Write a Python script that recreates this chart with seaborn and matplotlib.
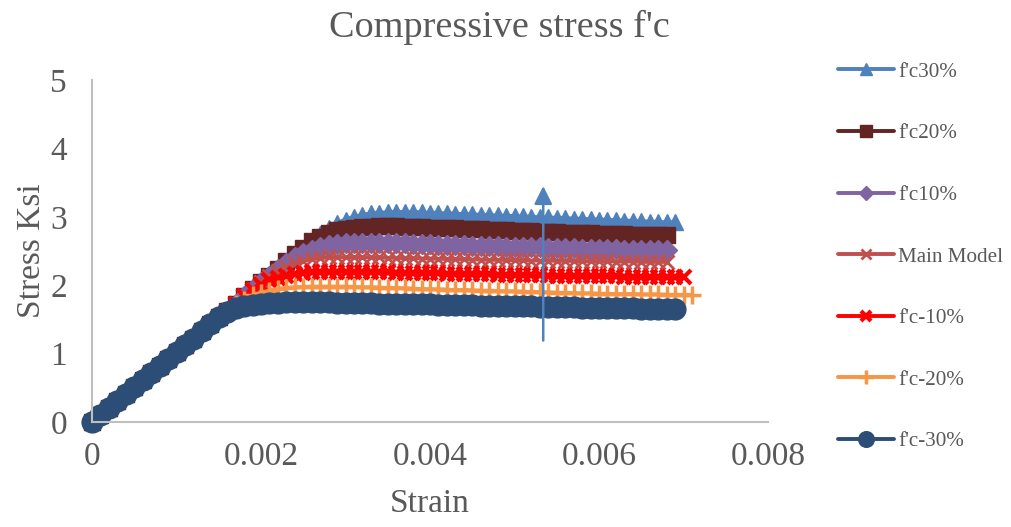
import matplotlib
matplotlib.use("Agg")
import matplotlib.pyplot as plt
import seaborn as sns
import numpy as np
import pandas as pd

sns.set_theme(style="white")
plt.rcParams['font.family'] = ['Liberation Serif', 'DejaVu Serif']

# strain grid step 0.0001 (shared)
strain_step = 0.0001

elastic = [0, 0.10, 0.20, 0.31, 0.41, 0.51, 0.61, 0.71, 0.82, 0.92,
           1.02, 1.12, 1.22, 1.33, 1.43, 1.53, 1.63, 1.73, 1.84, 1.94]

fc_p30 = elastic + [
    2.04, 2.14, 2.24, 2.35, 2.45, 2.55, 2.65, 2.75, 2.84, 2.91,
    2.96, 3.00, 3.03, 3.05, 3.06, 3.065, 3.07, 3.07, 3.07, 3.065,
    3.06, 3.055, 3.05, 3.045, 3.04, 3.035, 3.03, 3.025, 3.02, 3.015,
    3.01, 3.005, 3.00, 2.995, 2.99, 2.985, 2.98, 2.975, 2.97, 2.965,
    2.96, 2.955, 2.95, 2.945, 2.94, 2.935, 2.93, 2.925, 2.92, 2.92]

fc_p20 = elastic + [
    2.04, 2.14, 2.24, 2.35, 2.45, 2.55, 2.64, 2.71, 2.76, 2.80,
    2.825, 2.84, 2.85, 2.855, 2.86, 2.86, 2.86, 2.855, 2.85, 2.845,
    2.84, 2.835, 2.83, 2.83, 2.825, 2.82, 2.815, 2.81, 2.805, 2.80,
    2.795, 2.79, 2.79, 2.785, 2.78, 2.775, 2.77, 2.765, 2.76, 2.76,
    2.755, 2.75, 2.745, 2.745, 2.74, 2.735, 2.735, 2.73, 2.73]

fc_p10 = elastic + [
    2.04, 2.14, 2.24, 2.33, 2.41, 2.47, 2.52, 2.56, 2.585, 2.60,
    2.61, 2.615, 2.62, 2.62, 2.62, 2.615, 2.61, 2.61, 2.605, 2.60,
    2.60, 2.595, 2.59, 2.59, 2.585, 2.58, 2.575, 2.575, 2.57, 2.565,
    2.565, 2.56, 2.555, 2.555, 2.55, 2.545, 2.54, 2.54, 2.535, 2.53,
    2.53, 2.525, 2.525, 2.52, 2.52, 2.515, 2.515, 2.51, 2.51]

main_model = elastic + [
    2.04, 2.13, 2.21, 2.27, 2.32, 2.355, 2.38, 2.395, 2.405, 2.41,
    2.41, 2.41, 2.41, 2.41, 2.405, 2.40, 2.40, 2.395, 2.395, 2.39,
    2.39, 2.385, 2.385, 2.38, 2.38, 2.375, 2.375, 2.37, 2.37, 2.37,
    2.365, 2.365, 2.36, 2.36, 2.36, 2.355, 2.355, 2.355, 2.35, 2.35,
    2.35, 2.35, 2.345, 2.345, 2.345, 2.34, 2.34, 2.34, 2.34]

fc_m10 = elastic[:19] + [
    1.93,
    2.01, 2.07, 2.11, 2.14, 2.165, 2.18, 2.19, 2.195, 2.20, 2.20,
    2.20, 2.20, 2.20, 2.195, 2.19, 2.19, 2.185, 2.185, 2.18, 2.18,
    2.175, 2.175, 2.17, 2.17, 2.165, 2.165, 2.16, 2.16, 2.155, 2.155,
    2.15, 2.15, 2.145, 2.145, 2.14, 2.14, 2.14, 2.135, 2.135, 2.13,
    2.13, 2.13, 2.13, 2.125, 2.125, 2.125, 2.12, 2.12, 2.12, 2.12, 2.12]

fc_m20 = elastic[:17] + [
    1.72, 1.79, 1.85,
    1.89, 1.92, 1.945, 1.96, 1.97, 1.975, 1.98, 1.98, 1.98, 1.98,
    1.98, 1.975, 1.97, 1.97, 1.965, 1.96, 1.96, 1.955, 1.95, 1.945,
    1.94, 1.94, 1.935, 1.93, 1.93, 1.925, 1.92, 1.92, 1.915, 1.91,
    1.91, 1.905, 1.90, 1.90, 1.895, 1.89, 1.89, 1.885, 1.88, 1.88,
    1.875, 1.875, 1.87, 1.87, 1.87, 1.865, 1.865, 1.865, 1.86, 1.86,
    1.86, 1.86]

fc_m30 = elastic[:15] + [
    1.53, 1.61, 1.66, 1.69, 1.71,
    1.73, 1.74, 1.745, 1.75, 1.75, 1.75, 1.75, 1.75, 1.75, 1.745,
    1.74, 1.74, 1.74, 1.735, 1.73, 1.73, 1.73, 1.725, 1.72, 1.72,
    1.72, 1.715, 1.71, 1.71, 1.71, 1.705, 1.70, 1.70, 1.70, 1.695,
    1.69, 1.69, 1.69, 1.685, 1.68, 1.68, 1.68, 1.675, 1.67, 1.67,
    1.67, 1.665, 1.66, 1.66, 1.66, 1.655, 1.65, 1.65, 1.65, 1.65]

labels = ["f'c30%", "f'c20%", "f'c10%", "Main Model", "f'c-10%", "f'c-20%", "f'c-30%"]
series = [fc_p30, fc_p20, fc_p10, main_model, fc_m10, fc_m20, fc_m30]
colors = ["#4F81BD", "#632523", "#8064A2", "#C0504D", "#FF0000", "#F79646", "#2C4D75"]
markers = ["^", "s", "D", "x", "x", "+", "o"]
msizes = [11, 11, 10, 10, 10, 13, 15]
mews = [1, 1, 1, 2, 3, 2.5, 1]

xticks = [0, 0.002, 0.004, 0.006, 0.008]
xticklabels = ["0", "0.002", "0.004", "0.006", "0.008"]
yticks = [0, 1, 2, 3, 4, 5]

# arrow (strain, stress)
arrow_x = 0.00534
arrow_y0, arrow_y1 = 1.15, 3.49

W, H = 1012, 527
fig = plt.figure(figsize=(W / 100, H / 100), dpi=100)
ax = fig.add_axes([92 / W, 1 - 422 / H, (768 - 92) / W, (422 - 80) / H])

txt = "#595959"
for lab, ys, c, m, ms, mew in zip(labels, series, colors, markers, msizes, mews):
    xs = np.arange(len(ys)) * strain_step
    df = pd.DataFrame({"Strain": xs, "Stress": ys})
    sns.lineplot(data=df, x="Strain", y="Stress", ax=ax, color=c, marker=m,
                 markersize=ms, markeredgewidth=mew, markeredgecolor=c,
                 markerfacecolor=c, linewidth=2.8, label=lab, clip_on=False)

ax.annotate("", xy=(arrow_x, arrow_y1), xytext=(arrow_x, arrow_y0),
            arrowprops=dict(arrowstyle="-|>,head_length=0.9,head_width=0.45",
                            color="#4F81BD", lw=1.8))

ax.set_xlim(0, 0.008)
ax.set_ylim(0, 5)
ax.set_xticks(xticks)
ax.set_xticklabels(xticklabels)
ax.set_yticks(yticks)
ax.tick_params(axis="x", length=0, labelsize=24, labelcolor=txt, pad=14)
ax.tick_params(axis="y", length=0, labelsize=24, labelcolor=txt, pad=18)
for s in ["top", "right"]:
    ax.spines[s].set_visible(False)
for s in ["left", "bottom"]:
    ax.spines[s].set_color("#BFBFBF")
    ax.spines[s].set_linewidth(1.5)
ax.grid(False)

ax.set_xlabel("Strain", fontsize=24, color=txt, labelpad=12)
ax.set_ylabel("Stress Ksi", fontsize=24, color=txt, labelpad=2)
fig.text(0.493, 1 - 27 / H, "Compressive stress f'c", ha="center", va="center",
         fontsize=27.5, color=txt)

leg = ax.legend(loc="upper left", bbox_to_anchor=(838 / W, 1 - 62 / H),
                bbox_transform=fig.transFigure, frameon=False, fontsize=15.2,
                labelspacing=1.98, handlelength=2.65, handletextpad=0.2,
                borderpad=0, borderaxespad=0, markerscale=0.75)
for t in leg.get_texts():
    t.set_color(txt)

fig.savefig("out.png", dpi=100)
